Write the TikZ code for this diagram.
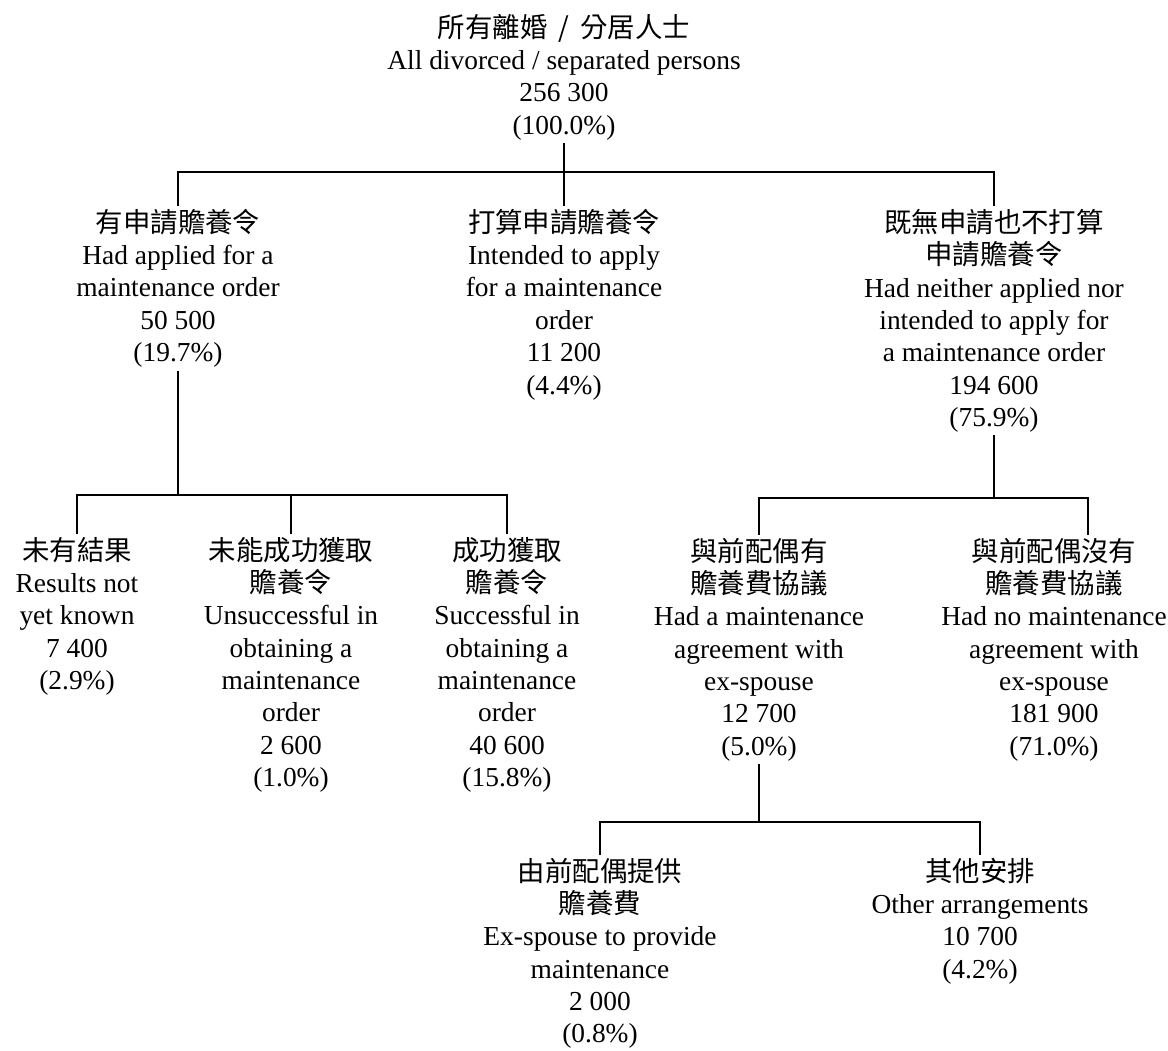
\documentclass[tikz,border=0pt]{standalone}
\usepackage{fontspec}
\setmainfont{Liberation Serif}
\newfontfamily\cjk{Noto Sans CJK TC}
\newcommand{\zh}[1]{{\cjk #1}}

\begin{document}
\begin{tikzpicture}[
    x=0.025cm, y=-0.025cm,
    cell/.style={align=center, anchor=north, inner sep=2pt, font=\fontsize{19.5}{23}\selectfont},
    link/.style={line width=1.2pt}
    ]
    \useasboundingbox (0,0) rectangle (1168,1050);

    \node[cell] (all) at (564,11) {\zh{所有離婚\hspace{0.4em}/\hspace{0.4em}分居人士}\\All divorced / separated persons\\256 300\\(100.0\%)};

    \node[cell] (applied) at (178,206) {\zh{有申請贍養令}\\Had applied for a\\maintenance order\\50 500\\(19.7\%)};
    \node[cell] (intend) at (564,206) {\zh{打算申請贍養令}\\Intended to apply\\for a maintenance\\order\\11 200\\(4.4\%)};
    \node[cell] (neither) at (994,206) {\zh{既無申請也不打算}\\\zh{申請贍養令}\\Had neither applied nor\\intended to apply for\\a maintenance order\\194 600\\(75.9\%)};

    \node[cell] (pending) at (77,534) {\zh{未有結果}\\Results not\\yet known\\7 400\\(2.9\%)};
    \node[cell] (fail) at (291,534) {\zh{未能成功獲取}\\\zh{贍養令}\\Unsuccessful in\\obtaining a\\maintenance\\order\\2 600\\(1.0\%)};
    \node[cell] (success) at (507,534) {\zh{成功獲取}\\\zh{贍養令}\\Successful in\\obtaining a\\maintenance\\order\\40 600\\(15.8\%)};

    \node[cell] (agree) at (759,535) {\zh{與前配偶有}\\\zh{贍養費協議}\\Had a maintenance\\agreement with\\ex-spouse\\12 700\\(5.0\%)};
    \node[cell] (noagree) at (1054,535) {\zh{與前配偶沒有}\\\zh{贍養費協議}\\Had no maintenance\\agreement with\\ex-spouse\\181 900\\(71.0\%)};

    \node[cell] (provide) at (600,855) {\zh{由前配偶提供}\\\zh{贍養費}\\Ex-spouse to provide\\maintenance\\2 000\\(0.8\%)};
    \node[cell] (other) at (980,855) {\zh{其他安排}\\Other arrangements\\10 700\\(4.2\%)};

    \coordinate (bus1) at (564,172);
    \coordinate (bus2) at (178,495);
    \coordinate (bus3) at (994,498);
    \coordinate (bus4) at (759,822);

    \draw[link] (all.south) -- (intend.north);
    \draw[link] (applied.north) |- (bus1) -| (neither.north);

    \draw[link] (applied.south) -- (bus2);
    \draw[link] (pending.north) |- (bus2) -| (success.north);
    \draw[link] (bus2 -| fail.north) -- (fail.north);

    \draw[link] (neither.south) -- (bus3);
    \draw[link] (agree.north) |- (bus3) -| ([xshift=0.85cm]noagree.north);

    \draw[link] (agree.south) -- (bus4);
    \draw[link] (provide.north) |- (bus4) -| (other.north);
\end{tikzpicture}
\end{document}
